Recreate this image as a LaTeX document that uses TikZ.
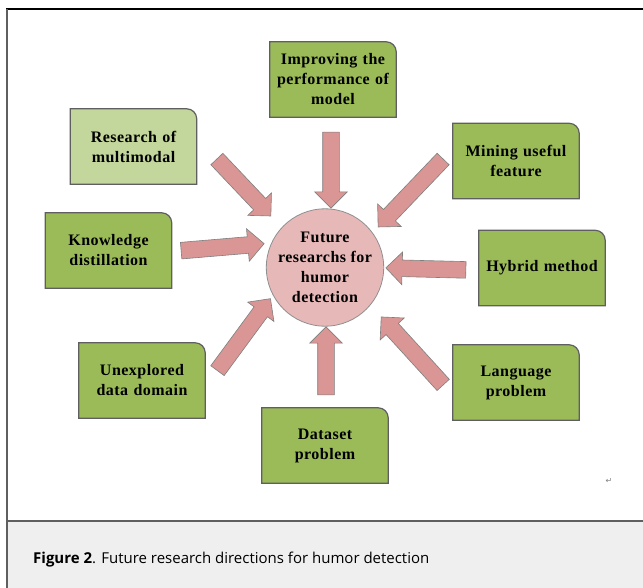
\documentclass[tikz,border=0pt]{standalone}
\usepackage{fontspec}
\setmainfont{Liberation Serif}
\newfontfamily\boxfont[LetterSpace = 3]{Liberation Serif}
\newfontfamily\captionfont{Open Sans}
\newfontfamily\symbolfont{DejaVu Sans}
\usetikzlibrary{calc, shapes.arrows, backgrounds, positioning}

\definecolor{boxgreen}{HTML}{9BBB59}
\definecolor{boxlight}{HTML}{C3D69B}
\definecolor{arrowred}{HTML}{D99694}
\definecolor{circlered}{HTML}{E6B9B8}
\definecolor{edgegray}{HTML}{5F5F5F}
\definecolor{captiongray}{HTML}{EFEFEF}

\tikzset{
	topic/.style = {minimum width = 126pt, minimum height = 75pt, text width = 122pt, align = center, inner sep = 0pt, font = \boxfont\fontsize{16}{20}\selectfont\bfseries},
	outline/.style = {draw = edgegray, line width = 1.2pt},
	blockarrow/.style = {single arrow, draw = edgegray!80, fill = arrowred, line width = 0.6pt, single arrow head extend = 8pt, inner xsep = 0pt, inner ysep = 8pt},
}

% block arrow between two named coordinates
\newcommand{\blockArrow}[2]{%
	\path let \p1 = ($(#2) - (#1)$), \n1 = {atan2(\y1, \x1)}, \n2 = {veclen(\x1, \y1)} in
		node[blockarrow, rotate = \n1, minimum height = \n2] at ($(#1)!0.5!(#2)$) {};
}

\begin{document}
\begin{tikzpicture}[x = 1pt, y = -1pt]

		% contant definitions
		\def\cornerRadius{10pt}

		\useasboundingbox (0, 0) rectangle (643, 588);

		% topics
		\node[topic] (perf)   at (333, 79.5)  {Improving the\\performance of\\model};
		\node[topic] (multi)  at (133.5, 146.5) {Research of\\multimodal};
		\node[topic] (mining) at (516, 161)   {Mining useful\\feature};
		\node[topic] (know)   at (108.5, 250.5) {Knowledge\\distillation};
		\node[topic] (hybrid) at (542, 268)   {Hybrid method};
		\node[topic] (unexp)  at (142, 380.5) {Unexplored\\data domain};
		\node[topic] (lang)   at (516, 382.5) {Language\\problem};
		\node[topic] (data)   at (325, 445.5) {Dataset\\problem};

		% centre
		\node[circle, minimum size = 110pt, inner sep = 0pt, fill = circlered, draw = edgegray!70, line width = 0.8pt, align = center, font = \boxfont\fontsize{16}{20}\selectfont\bfseries] (core) at (325, 267.5) {Future\\researchs for\\humor\\detection};

		% frame, caption band and topic boxes
		\begin{scope}[on background layer]
			\fill[white] (0, 0) rectangle (643, 588);
			\fill[captiongray] (7, 521) rectangle (643, 588);
			\foreach \topic/\c in {perf/boxgreen, multi/boxlight, mining/boxgreen, know/boxgreen, hybrid/boxgreen, unexp/boxgreen, lang/boxgreen, data/boxgreen} {
				\draw[outline, fill = \c] (\topic.south west) -- (\topic.north west) -- ([xshift = -\cornerRadius]\topic.north east) arc[start angle = 90, end angle = 0, radius = \cornerRadius] -- (\topic.south east) -- cycle;
			}
		\end{scope}
		\draw[black, line width = 2pt] (6, 9.5) -- (643, 9.5);
		\draw[edgegray, line width = 2pt] (7, 9.5) -- (7, 588);
		\draw[edgegray, line width = 2pt] (7, 521) -- (643, 521);

		% arrow coordinates
		\coordinate (perfTail)   at (331, 128);
		\coordinate (perfTip)    at (331, 204);
		\coordinate (multiTail)  at (214, 156);
		\coordinate (multiTip)   at (268, 213);
		\coordinate (miningTail) at (446, 156);
		\coordinate (miningTip)  at (381, 224);
		\coordinate (knowTail)   at (177, 251);
		\coordinate (knowTip)    at (260, 244);
		\coordinate (hybridTail) at (470, 270);
		\coordinate (hybridTip)  at (390, 268);
		\coordinate (unexpTail)  at (215, 374);
		\coordinate (unexpTip)   at (268, 302);
		\coordinate (dataTail)   at (326, 399);
		\coordinate (dataTip)    at (326, 331);
		\coordinate (langTail)   at (446, 388);
		\coordinate (langTip)    at (384, 320);

		% arrows
		\foreach \topic in {perf, multi, mining, know, hybrid, unexp, data, lang} {
			\blockArrow{\topic Tail}{\topic Tip}
		}

		% caption
		\node[anchor = base west, inner sep = 0pt, font = \captionfont\fontsize{15}{18}\selectfont] (caption) at (33, 563) {\textbf{Figure 2}. Future research directions for humor detection};
		\node[text = gray, inner sep = 0pt, font = \symbolfont\fontsize{8}{8}\selectfont] (mark) at (609, 481) {↵};

	\end{tikzpicture}
\end{document}
